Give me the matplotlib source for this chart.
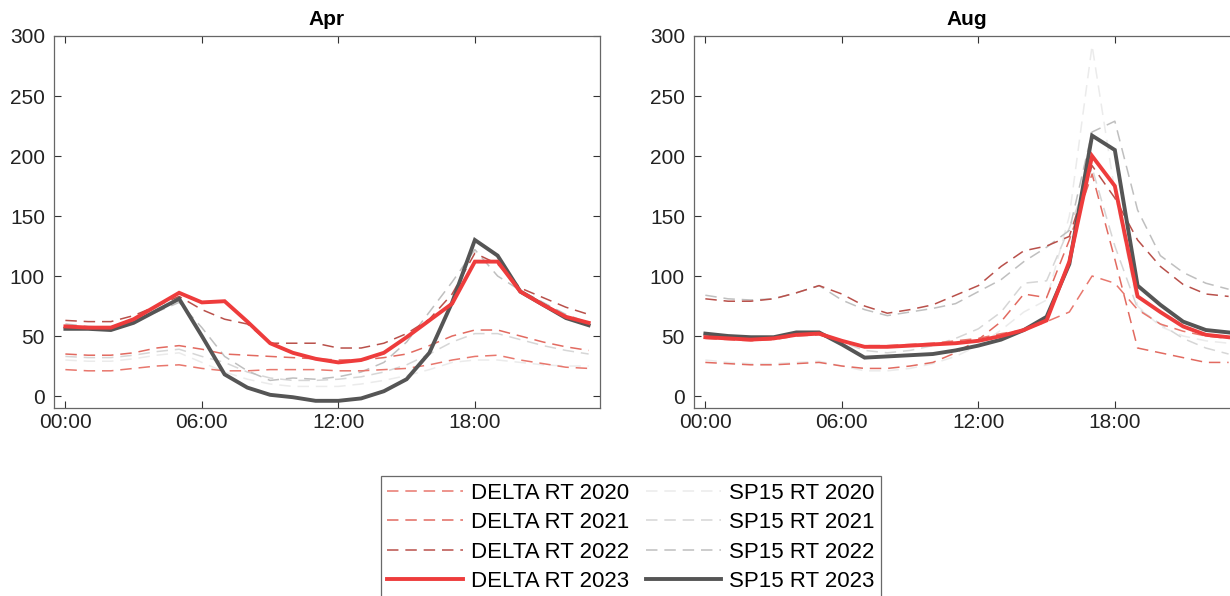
import numpy as np
import matplotlib
matplotlib.use('Agg')
import matplotlib.pyplot as plt

plt.rcParams['font.family'] = ['Liberation Sans', 'DejaVu Sans']

hours = list(range(24))
tick_hours = [0, 6, 12, 18]
tick_labels = ['00:00', '06:00', '12:00', '18:00']

# April hourly prices
delta_2020_apr = [22, 21, 21, 23, 25, 26, 23, 21, 21, 22, 22, 22, 21, 21, 22, 23, 26, 30, 33, 34, 30, 27, 24, 23]
delta_2021_apr = [35, 34, 34, 36, 40, 42, 39, 35, 34, 33, 32, 31, 30, 30, 32, 35, 42, 50, 55, 55, 50, 45, 41, 38]
delta_2022_apr = [63, 62, 62, 67, 75, 83, 72, 64, 60, 44, 44, 44, 40, 40, 44, 52, 64, 85, 119, 110, 90, 82, 74, 68]
delta_2023_apr = [58, 57, 57, 64, 75, 86, 78, 79, 62, 44, 36, 31, 28, 30, 36, 49, 63, 77, 112, 112, 87, 76, 66, 61]
sp15_2020_apr = [30, 29, 29, 31, 34, 36, 28, 20, 14, 10, 8, 8, 8, 10, 13, 17, 22, 28, 30, 30, 28, 26, 25, 25]
sp15_2021_apr = [33, 32, 32, 34, 37, 39, 33, 28, 20, 15, 13, 13, 14, 16, 20, 26, 35, 45, 52, 52, 47, 42, 38, 35]
sp15_2022_apr = [60, 58, 57, 62, 70, 78, 57, 33, 21, 13, 15, 14, 16, 20, 28, 45, 70, 95, 122, 100, 88, 78, 68, 61]
sp15_2023_apr = [56, 56, 55, 61, 71, 81, 50, 18, 7, 1, -1, -4, -4, -2, 4, 14, 36, 78, 130, 117, 87, 76, 65, 59]

# August hourly prices
delta_2020_aug = [48, 47, 46, 47, 50, 51, 45, 42, 42, 43, 44, 46, 48, 52, 55, 62, 70, 100, 94, 72, 60, 54, 50, 48]
delta_2021_aug = [28, 27, 26, 26, 27, 28, 25, 23, 23, 25, 28, 36, 47, 62, 85, 82, 130, 185, 114, 40, 36, 32, 28, 28]
delta_2022_aug = [81, 79, 79, 81, 86, 92, 85, 75, 69, 72, 76, 84, 92, 108, 121, 125, 133, 192, 165, 130, 108, 93, 85, 83]
delta_2023_aug = [49, 48, 47, 48, 51, 52, 46, 41, 41, 42, 43, 44, 46, 50, 55, 63, 112, 200, 175, 83, 70, 58, 51, 49]
sp15_2020_aug = [30, 28, 27, 27, 28, 29, 25, 21, 21, 23, 27, 33, 42, 55, 70, 80, 150, 292, 170, 75, 58, 50, 46, 44]
sp15_2021_aug = [50, 49, 48, 49, 52, 53, 45, 38, 36, 38, 42, 48, 56, 70, 94, 96, 140, 190, 125, 73, 60, 48, 40, 35]
sp15_2022_aug = [84, 81, 80, 81, 86, 92, 80, 72, 67, 70, 73, 77, 87, 97, 112, 124, 138, 220, 229, 155, 117, 103, 94, 89]
sp15_2023_aug = [52, 50, 49, 49, 53, 53, 43, 32, 33, 34, 35, 38, 42, 47, 55, 66, 110, 217, 205, 92, 76, 62, 55, 53]

labels = ['DELTA RT 2020', 'DELTA RT 2021', 'DELTA RT 2022', 'DELTA RT 2023',
          'SP15 RT 2020', 'SP15 RT 2021', 'SP15 RT 2022', 'SP15 RT 2023']
colors = ['#e8776d', '#e26a60', '#b9504a', '#ee3c3c',
          '#ebebeb', '#d6d6d6', '#bfbfbf', '#555555']
dashed = [True, True, True, False, True, True, True, False]

panels = [
    ('Apr', [delta_2020_apr, delta_2021_apr, delta_2022_apr, delta_2023_apr,
             sp15_2020_apr, sp15_2021_apr, sp15_2022_apr, sp15_2023_apr]),
    ('Aug', [delta_2020_aug, delta_2021_aug, delta_2022_aug, delta_2023_aug,
             sp15_2020_aug, sp15_2021_aug, sp15_2022_aug, sp15_2023_aug]),
]

fig = plt.figure(figsize=(12.3, 5.96), dpi=100)
positions = [[0.0439, 0.3154, 0.4439, 0.6242], [0.5642, 0.3154, 0.4439, 0.6242]]

handles = {}
for pos, (title, series) in zip(positions, panels):
    ax = fig.add_axes(pos)
    # dashed history first, solid 2023 on top
    order = [4, 5, 6, 0, 1, 2, 7, 3]
    for i in order:
        if dashed[i]:
            ln, = ax.plot(hours, series[i], color=colors[i], lw=1.1,
                          dashes=(7.5, 4.5), zorder=2)
        else:
            ln, = ax.plot(hours, series[i], color=colors[i], lw=2.8,
                          solid_joinstyle='miter', zorder=3)
        handles[i] = ln
    ax.set_xlim(-0.5, 23.5)
    ax.set_ylim(-10, 300)
    ax.set_xticks(tick_hours)
    ax.set_xticklabels(tick_labels)
    ax.set_yticks(np.arange(0, 301, 50))
    ax.tick_params(direction='in', length=5, width=0.8, labelsize=15,
                   top=True, right=True, colors='#333333', labelcolor='#222222')
    ax.tick_params(axis='y', pad=6.5)
    for sp in ax.spines.values():
        sp.set_color('#666666')
        sp.set_linewidth(0.9)
    ax.set_title(title, fontsize=15, fontweight='bold', pad=8)

leg = fig.legend([handles[i] for i in range(8)], labels, ncol=2,
                 loc='upper center', bbox_to_anchor=(0.513, 0.2013),
                 fontsize=16, frameon=True, fancybox=False,
                 handlelength=3.4, handletextpad=0.35, columnspacing=0.75,
                 labelspacing=0.38, borderpad=0.3, borderaxespad=0)
leg.get_frame().set_edgecolor('#444444')
leg.get_frame().set_linewidth(0.9)

fig.savefig('out.png', dpi=100)
